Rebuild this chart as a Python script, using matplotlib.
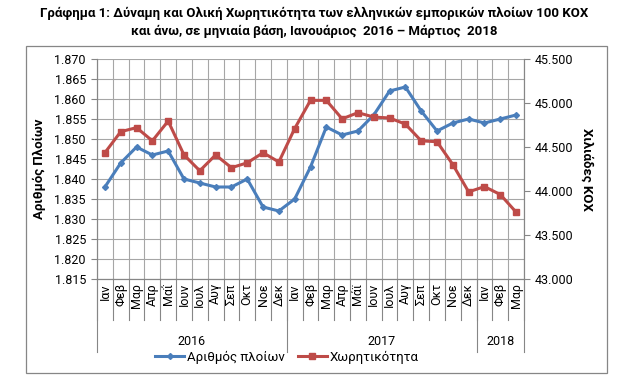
import matplotlib
matplotlib.use("Agg")
import matplotlib.pyplot as plt
import matplotlib.transforms as mtransforms
from matplotlib.patches import Rectangle
from matplotlib.lines import Line2D
from matplotlib.ticker import FuncFormatter, MultipleLocator

plt.rcParams['font.family'] = ['Roboto', 'DejaVu Sans']

# ---- data ----
months = ["Ιαν", "Φεβ", "Μαρ", "Απρ", "Μαΐ", "Ιουν", "Ιουλ", "Αυγ", "Σεπ", "Οκτ", "Νοε", "Δεκ",
          "Ιαν", "Φεβ", "Μαρ", "Απρ", "Μάϊ", "Ιουν", "Ιουλ", "Αυγ", "Σεπ", "Οκτ", "Νοε", "Δεκ",
          "Ιαν", "Φεβ", "Μαρ"]
years = ["2016", "2017", "2018"]
months_per_year = [12, 12, 3]

ships = [1838, 1844, 1848, 1846, 1847, 1840, 1839, 1838, 1838, 1840, 1833, 1832,
         1835, 1843, 1853, 1851, 1852, 1856, 1862, 1863, 1857, 1852, 1854, 1855,
         1854, 1855, 1856]
# thousand GT
capacity = [44435, 44674, 44720, 44570, 44795, 44410, 44230, 44410, 44265, 44320, 44435, 44330,
            44710, 45030, 45030, 44820, 44890, 44840, 44830, 44760, 44570, 44560, 44300, 43990,
            44050, 43960, 43760]

BLUE = "#4A7EBB"
RED = "#BE4B48"
GRID = "#A6A6A6"
AX = "#868686"

W, H = 631, 391
fig = plt.figure(figsize=(W / 100, H / 100), dpi=100)

# outer chart frame
fig.patches.append(Rectangle((26 / W, 1 - 373 / H), 581 / W, 327 / H, transform=fig.transFigure,
                             fill=False, edgecolor=AX, lw=0.9))

ax = fig.add_axes([97 / W, 1 - 279 / H, 427 / W, 220 / H])
ax2 = ax.twinx()

x = list(range(len(months)))
ax.plot(x, ships, color=BLUE, lw=2.2, marker="D", ms=3, zorder=3)
ax2.plot(x, capacity, color=RED, lw=2.2, marker="s", ms=4.5, zorder=3)

dot_fmt = FuncFormatter(lambda v, p: f"{int(round(v)):,}".replace(",", "."))
ax.set_ylim(1815, 1870)
ax.yaxis.set_major_locator(MultipleLocator(5))
ax.yaxis.set_major_formatter(dot_fmt)
ax2.set_ylim(43000, 45500)
ax2.yaxis.set_major_locator(MultipleLocator(500))
ax2.yaxis.set_major_formatter(dot_fmt)

ax.set_xlim(-0.5, len(months) - 0.5)
ax.set_xticks(x)
ax.set_xticklabels(months, rotation=90, fontsize=9)
ax.set_xticks([i - 0.5 for i in range(len(months) + 1)], minor=True)
ax.tick_params(axis="x", which="both", length=0, pad=3)
ax.grid(True, axis="x", which="minor", color=GRID, lw=0.8)
ax.grid(True, axis="y", which="major", color=GRID, lw=0.8)
ax.set_axisbelow(True)

ax.tick_params(axis="y", labelsize=9, length=4, color=AX, pad=4)
ax2.tick_params(axis="y", labelsize=9, length=4, color=AX, pad=4)
for a in (ax, ax2):
    for s in a.spines.values():
        s.set_color(AX)
        s.set_linewidth(0.8)
    a.spines["top"].set_visible(False)

ax.set_ylabel("Αριθμός Πλοίων", fontsize=9.5, fontweight="bold", labelpad=6)
ax2.set_ylabel("Χιλιάδες ΚΟΧ", fontsize=9.5, fontweight="bold", rotation=-90, labelpad=14)

# multi-level category axis: month separators + year groups
trans = mtransforms.blended_transform_factory(ax.transData, ax.transAxes)
for i in range(len(months) + 1):
    ax.add_line(Line2D([i - 0.5, i - 0.5], [0, -0.186], transform=trans, color=AX,
                       lw=0.8, clip_on=False))
start = 0
for yr, n in zip(years, months_per_year):
    ax.add_line(Line2D([start - 0.5, start - 0.5], [0, -0.333], transform=trans, color=AX,
                       lw=0.8, clip_on=False))
    ax.text(start + (n - 1) / 2, -0.282, yr, transform=trans, ha="center", va="center",
            fontsize=9)
    start += n
ax.add_line(Line2D([start - 0.5, start - 0.5], [0, -0.333], transform=trans, color=AX,
                   lw=0.8, clip_on=False))

handles = [Line2D([], [], color=BLUE, lw=2.2, marker="D", ms=3),
           Line2D([], [], color=RED, lw=2.2, marker="s", ms=4.5)]
fig.legend(handles, ["Αριθμός πλοίων", "Χωρητικότητα"], loc="center",
           bbox_to_anchor=(287 / W, 1 - 357 / H), ncol=2, frameon=False, fontsize=9.5,
           handlelength=2.2, handletextpad=0.2, columnspacing=1.0)

fig.text(314 / W, 1 - 13 / H,
         "Γράφημα 1: Δύναμη και Ολική Χωρητικότητα των ελληνικών εμπορικών πλοίων 100 ΚΟΧ",
         ha="center", va="center", fontsize=9.5, fontweight="bold")
fig.text(314 / W, 1 - 31 / H,
         "και άνω, σε μηνιαία βάση, Ιανουάριος  2016 – Μάρτιος  2018",
         ha="center", va="center", fontsize=9.5, fontweight="bold")

fig.savefig("out.png", dpi=100)
